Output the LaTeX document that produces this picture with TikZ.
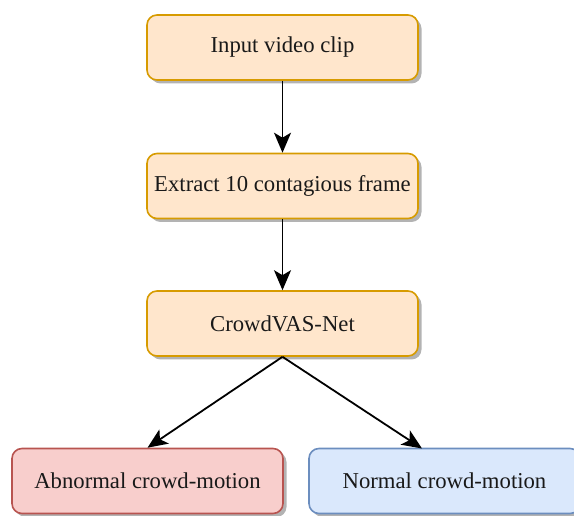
\documentclass[tikz,border=0pt]{standalone}
\usepackage{fontspec}
\setmainfont{Liberation Serif}
\usetikzlibrary{arrows.meta,shadows}

\definecolor{orangefill}{HTML}{FFE6CC}
\definecolor{orangeline}{HTML}{D79B00}
\definecolor{redfill}{HTML}{F8CECC}
\definecolor{redline}{HTML}{B85450}
\definecolor{bluefill}{HTML}{DAE8FC}
\definecolor{blueline}{HTML}{6C8EBF}
\definecolor{shadowgray}{HTML}{B3B3B3}

\tikzset{
  box/.style={rounded corners=10pt, line width=1.6pt, minimum width=271pt,
    minimum height=65pt, inner sep=0pt, text=black!90,
    font=\fontsize{22.7}{27}\selectfont,
    drop shadow={shadow xshift=3.5pt, shadow yshift=-3.5pt, fill=shadowgray, opacity=1}},
  stagebox/.style={box, draw=orangeline, fill=orangefill},
  abnormalbox/.style={box, draw=redline, fill=redfill},
  normalbox/.style={box, draw=blueline, fill=bluefill},
  flow/.style={line width=1.8pt, draw=black,
    -{Stealth[length=20pt, width=17pt, inset=5pt]}}
}

\begin{document}
\begin{tikzpicture}[x=1pt, y=-1pt]
  \useasboundingbox (0,0) rectangle (574,516);

  \node[stagebox] (clip) at (282.5,47.5) {Input video clip};
  \node[stagebox] (frames) at (282.5,186) {Extract 10 contagious frame};
  \node[stagebox] (net) at (282.5,323.5) {CrowdVAS-Net};
  \node[abnormalbox] (abnormal) at (147.5,481) {Abnormal crowd-motion};
  \node[normalbox] (normal) at (444.5,481) {Normal crowd-motion};

  \coordinate (normalin) at (422,448.5);

  \draw[flow] (clip) -- (frames);
  \draw[flow] (frames) -- (net);
  \draw[flow] (net.south) -- (abnormal.north);
  \draw[flow] (net.south) -- (normalin);
\end{tikzpicture}
\end{document}
